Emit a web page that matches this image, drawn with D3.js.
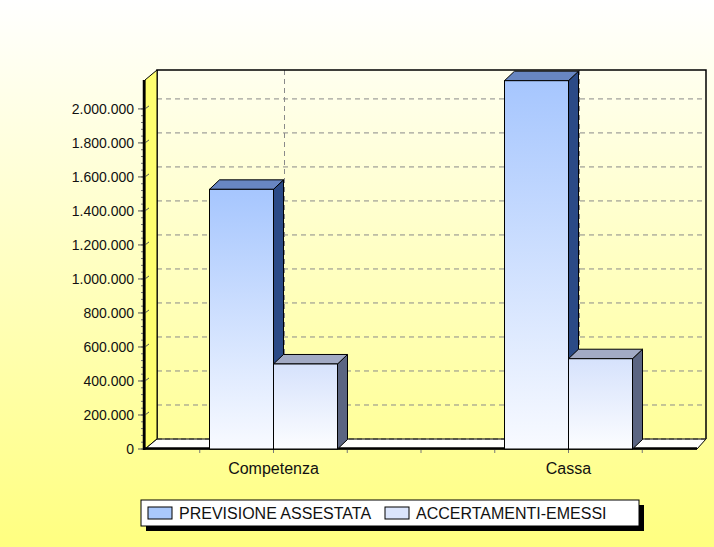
<!DOCTYPE html>
<html>
<head>
<meta charset="utf-8">
<script src="https://cdn.jsdelivr.net/npm/d3@7"></script>
<style>
  body { margin: 0; background: #fff; }
  svg { display: block; font-family: "Liberation Sans", Arial, sans-serif; }
</style>
</head>
<body>
<svg width="714" height="547"></svg>
<script>
// data
const categories = ["Competenza", "Cassa"];
const seriesNames = ["PREVISIONE ASSESTATA", "ACCERTAMENTI-EMESSI"];
const previsione = [1527000, 2166000];
const accertamenti = [500000, 531000];
const yTicks = [0, 200000, 400000, 600000, 800000, 1000000, 1200000, 1400000, 1600000, 1800000, 2000000];
const yMax = 2170000;

const seriesColors = [
  { top: "#a6c6fe", bottom: "#f8faff", side: "#2b4a86", cap: "#6886c2", swatch: "#a9c8fc" },
  { top: "#d6e2fc", bottom: "#fcfdff", side: "#5b6582", cap: "#a2aac4", swatch: "#dbe5fc" }
];

const svg = d3.select("svg");
const width = +svg.attr("width");
const height = +svg.attr("height");

// 3D geometry
const depthX = 12, depthY = -10;    // wall depth
const barDX = 10, barDY = -9.5;     // bar depth
const plotLeft = 145, plotRight = 697, plotBottom = 449, plotTop = 80;

const fmt = d3.formatLocale({ decimal: ",", thousands: ".", grouping: [3], currency: ["", ""] }).format(",.0f");

const x = d3.scaleBand().domain(categories).range([126, 716]);
const x1 = d3.scaleBand().domain(seriesNames).range([-64, 64]);
const y = d3.scaleLinear().domain([0, yMax]).range([plotBottom, plotTop]);

const defs = svg.append("defs");
const bg = defs.append("linearGradient").attr("id", "bg").attr("x1", 0).attr("y1", 0).attr("x2", 0).attr("y2", 1);
bg.append("stop").attr("offset", "0%").attr("stop-color", "#ffffff");
bg.append("stop").attr("offset", "100%").attr("stop-color", "#ffff80");

seriesColors.forEach((c, i) => {
  const g = defs.append("linearGradient").attr("id", "bar" + i).attr("x1", 0).attr("y1", 0).attr("x2", 0).attr("y2", 1);
  g.append("stop").attr("offset", "0%").attr("stop-color", c.top);
  g.append("stop").attr("offset", "100%").attr("stop-color", c.bottom);
});

svg.append("rect").attr("width", width).attr("height", height).attr("fill", "url(#bg)");

// back wall gridlines
svg.append("g")
  .selectAll("line")
  .data(yTicks.slice(1))
  .join("line")
  .attr("x1", plotLeft + depthX).attr("x2", plotRight + 9)
  .attr("y1", d => y(d) + depthY).attr("y2", d => y(d) + depthY)
  .attr("stroke", "#8a8a8a").attr("stroke-dasharray", "5,4");

svg.append("g")
  .selectAll("line")
  .data(categories)
  .join("line")
  .attr("x1", d => x(d) + x.bandwidth() / 2 + depthX - 1)
  .attr("x2", d => x(d) + x.bandwidth() / 2 + depthX - 1)
  .attr("y1", plotTop + depthY).attr("y2", plotBottom + depthY)
  .attr("stroke", "#8a8a8a").attr("stroke-dasharray", "5,4");

// back wall frame
svg.append("path")
  .attr("d", `M${plotLeft + depthX},${plotBottom + depthY}V${plotTop + depthY}H${plotRight + 9}V${plotBottom + depthY}`)
  .attr("fill", "none").attr("stroke", "#000").attr("stroke-width", 1.5);

// left wall
svg.append("path")
  .attr("d", `M${plotLeft},${plotTop}L${plotLeft + depthX},${plotTop + depthY}V${plotBottom + depthY}L${plotLeft},${plotBottom}Z`)
  .attr("fill", "#ffff70").attr("stroke", "#000").attr("stroke-width", 1);

// floor
svg.append("path")
  .attr("d", `M${plotLeft},${plotBottom}L${plotLeft + depthX},${plotBottom + depthY}H${plotRight + 9}L${plotRight},${plotBottom}Z`)
  .attr("fill", "#fdfdfb").attr("stroke", "#000").attr("stroke-width", 1);
svg.append("line")
  .attr("x1", plotLeft + depthX).attr("x2", plotRight + 9)
  .attr("y1", plotBottom + depthY).attr("y2", plotBottom + depthY)
  .attr("stroke", "#333").attr("stroke-dasharray", "5,3");

// y axis
const yAxis = svg.append("g");
const minor = d3.range(0, 2000001, 40000);
yAxis.selectAll(".minor")
  .data(minor)
  .join("line")
  .attr("class", "minor")
  .attr("x1", 141).attr("x2", 144)
  .attr("y1", d => y(d)).attr("y2", d => y(d))
  .attr("stroke", "#777");
yAxis.selectAll(".major")
  .data(yTicks)
  .join("path")
  .attr("class", "major")
  .attr("d", d => `M138,${y(d)}H${plotLeft}l4,-3`)
  .attr("fill", "none").attr("stroke", "#555").attr("stroke-width", 1);
yAxis.selectAll("text")
  .data(yTicks)
  .join("text")
  .attr("x", 134).attr("y", d => y(d)).attr("dy", "0.36em")
  .attr("text-anchor", "end").attr("font-size", 14).attr("fill", "#111")
  .text(d => fmt(d));
svg.append("line")
  .attr("x1", plotLeft - 1).attr("x2", plotLeft - 1).attr("y1", plotTop).attr("y2", plotBottom + 1)
  .attr("stroke", "#000").attr("stroke-width", 2.5);

// x axis
const xTicks = [];
categories.forEach(c => { for (let k = 0; k < 4; k++) xTicks.push(x(c) + k * x.bandwidth() / 4); });
svg.append("g")
  .selectAll("line")
  .data(xTicks.filter(t => t > plotLeft && t < plotRight))
  .join("line")
  .attr("x1", d => d).attr("x2", d => d)
  .attr("y1", plotBottom).attr("y2", plotBottom + 4)
  .attr("stroke", "#777");
svg.append("line")
  .attr("x1", plotLeft - 1).attr("x2", plotRight).attr("y1", plotBottom - 0.5).attr("y2", plotBottom - 0.5)
  .attr("stroke", "#000").attr("stroke-width", 2.5);
svg.append("g")
  .selectAll("text")
  .data(categories)
  .join("text")
  .attr("x", d => x(d) + x.bandwidth() / 2)
  .attr("y", 474)
  .attr("text-anchor", "middle").attr("font-size", 16).attr("fill", "#111")
  .text(d => d);

// bars (left to right so the 3D faces overlap properly)
const seriesValues = [previsione, accertamenti];
const bars = [];
categories.forEach((c, ci) => {
  seriesNames.forEach((s, si) => {
    bars.push({ cat: c, s, si, value: seriesValues[si][ci] });
  });
});

const barG = svg.append("g");
bars.forEach(b => {
  const x0 = x(b.cat) + x.bandwidth() / 2 + x1(b.s);
  const w = x1.bandwidth();
  const yt = y(b.value);
  const y0 = y(0);
  const col = seriesColors[b.si];
  const g = barG.append("g");
  g.append("path")
    .attr("d", `M${x0 + w},${yt}L${x0 + w + barDX},${yt + barDY}V${y0 + barDY}L${x0 + w},${y0}Z`)
    .attr("fill", col.side).attr("stroke", "#000").attr("stroke-width", 1).attr("stroke-linejoin", "round");
  g.append("path")
    .attr("d", `M${x0},${yt}L${x0 + barDX},${yt + barDY}H${x0 + w + barDX}L${x0 + w},${yt}Z`)
    .attr("fill", col.cap).attr("stroke", "#000").attr("stroke-width", 1).attr("stroke-linejoin", "round");
  g.append("rect")
    .attr("x", x0).attr("y", yt).attr("width", w).attr("height", y0 - yt)
    .attr("fill", `url(#bar${b.si})`).attr("stroke", "#000").attr("stroke-width", 1);
});

// legend
const legend = svg.append("g");
legend.append("rect").attr("x", 146).attr("y", 505).attr("width", 498).attr("height", 26).attr("fill", "#000");
legend.append("rect").attr("x", 141).attr("y", 500).attr("width", 498).attr("height", 26)
  .attr("fill", "#fff").attr("stroke", "#000").attr("stroke-width", 1);
const legendX = [148, 385];
seriesNames.forEach((s, i) => {
  legend.append("rect").attr("x", legendX[i]).attr("y", 507).attr("width", 24).attr("height", 12)
    .attr("fill", seriesColors[i].swatch).attr("stroke", "#000").attr("stroke-width", 1);
  legend.append("text").attr("x", legendX[i] + 31).attr("y", 519)
    .attr("font-size", 16).attr("fill", "#111").text(s);
});
</script>
</body>
</html>
